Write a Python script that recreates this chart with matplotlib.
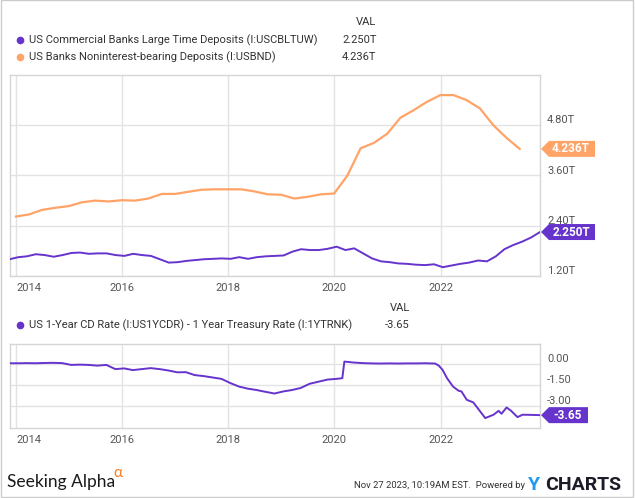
import numpy as np
import pandas as pd
import matplotlib
matplotlib.use("Agg")
import matplotlib.pyplot as plt
import matplotlib.dates as mdates
from matplotlib.lines import Line2D
from matplotlib.patches import Polygon, Rectangle
from matplotlib.transforms import ScaledTranslation

# ---- data ----
# US Banks Noninterest-bearing Deposits, quarterly, trillions
nib_dates = pd.date_range("2013-12-31", "2023-06-30", freq="QE")
nib_vals = [2.62, 2.67, 2.78, 2.83, 2.87, 2.96, 3.00, 2.98, 3.01, 3.00,
            3.05, 3.16, 3.16, 3.21, 3.26, 3.27, 3.27, 3.27, 3.22, 3.15,
            3.14, 3.05, 3.09, 3.15, 3.17, 3.60, 4.25, 4.38, 4.60, 4.98,
            5.16, 5.36, 5.52, 5.52, 5.40, 5.20, 4.80, 4.50, 4.236]

# US Commercial Banks Large Time Deposits, trillions
ltd_dates = pd.date_range("2013-11-01", "2023-11-01", freq="2MS") + pd.Timedelta(days=16)
ltd_vals = [1.60,
            1.65, 1.67, 1.72, 1.70, 1.66, 1.70,
            1.75, 1.76, 1.73, 1.74, 1.74, 1.70,
            1.68, 1.73, 1.70, 1.68, 1.60, 1.52,
            1.53, 1.56, 1.58, 1.60, 1.61, 1.62,
            1.61, 1.65, 1.61, 1.65, 1.67, 1.68,
            1.69, 1.78, 1.84, 1.82, 1.82, 1.85,
            1.90, 1.82, 1.86, 1.74, 1.62, 1.55,
            1.53, 1.50, 1.49, 1.47, 1.46, 1.48,
            1.41, 1.45, 1.49, 1.52, 1.57, 1.55,
            1.67, 1.84, 1.94, 2.02, 2.12, 2.25]

# US 1-Year CD Rate - 1 Year Treasury Rate
spread_dates = ["2013-11-20", "2014-01-15", "2014-03-15", "2014-05-15", "2014-07-15",
                "2014-09-15", "2014-11-15", "2015-01-15", "2015-03-15", "2015-05-15",
                "2015-07-15", "2015-09-15", "2015-11-15", "2016-01-15", "2016-03-15",
                "2016-05-15", "2016-07-15", "2016-09-15", "2016-11-15", "2017-01-15",
                "2017-03-15", "2017-05-15", "2017-07-15", "2017-09-15", "2017-11-15",
                "2018-01-15", "2018-03-15", "2018-05-15", "2018-07-15", "2018-09-15",
                "2018-11-15", "2019-01-15", "2019-03-15", "2019-05-15", "2019-07-15",
                "2019-09-15", "2019-11-15", "2020-01-15", "2020-02-25", "2020-03-10",
                "2020-05-15", "2020-07-15", "2020-09-15", "2020-11-15", "2021-01-15",
                "2021-03-15", "2021-05-15", "2021-07-15", "2021-09-15", "2021-11-25",
                "2021-12-20", "2022-01-15", "2022-02-15", "2022-03-28", "2022-05-05",
                "2022-05-25", "2022-07-01", "2022-08-15", "2022-11-05", "2023-01-01",
                "2023-02-05", "2023-02-25", "2023-04-01", "2023-05-01", "2023-06-15",
                "2023-07-20", "2023-09-15", "2023-11-17"]
spread_vals = [0.07, 0.07, 0.08, 0.07, 0.09,
               0.10, 0.08, -0.05, -0.03, -0.05,
               -0.10, -0.05, -0.35, -0.30, -0.42,
               -0.35, -0.28, -0.35, -0.45, -0.58,
               -0.57, -0.78, -0.85, -0.95, -1.05,
               -1.35, -1.60, -1.75, -1.85, -1.98,
               -2.10, -1.95, -1.85, -1.70, -1.40,
               -1.25, -1.10, -1.05, -1.00, 0.19,
               0.12, 0.08, 0.06, 0.05, 0.06,
               0.05, 0.06, 0.06, 0.07, 0.05,
               -0.10, -0.40, -1.00, -1.60, -1.90,
               -1.95, -2.55, -2.74, -3.86, -3.62,
               -3.34, -3.55, -3.10, -3.33, -3.79,
               -3.62, -3.63, -3.65]

top_ticks = [1.2, 2.4, 3.6, 4.8]
top_labels = ["1.20T", "2.40T", "3.60T", "4.80T"]
bot_ticks = [0.0, -1.5, -3.0]
bot_labels = ["0.00", "-1.50", "-3.00"]
years = list(range(2014, 2023, 2))

PURPLE = "#6633cc"
ORANGE = "#ffa366"
GRID = "#e3e3e3"
TXT = "#333333"
TICK = "#555555"
FONT = ["Roboto", "DejaVu Sans"]

W, H = 635, 498
plt.rcParams["font.family"] = FONT

fig = plt.figure(figsize=(W / 100, H / 100), dpi=100)


def fx(x):
    return x / W


def fy(y):
    return 1 - y / H


xmin = pd.Timestamp("2013-11-20")
xmax = pd.Timestamp("2023-11-17")


def style_axes(ax, ylim, ticks, labels):
    ax.set_xlim(xmin, xmax)
    ax.set_ylim(*ylim)
    for s in ax.spines.values():
        s.set_color("#d6d6d6")
        s.set_linewidth(1.0)
    ax.set_xticks([pd.Timestamp(f"{y}-01-01") for y in years])
    ax.xaxis.set_major_formatter(mdates.DateFormatter("%Y"))
    ax.tick_params(axis="x", length=0, pad=5, labelsize=8, labelcolor=TICK)
    ax.set_yticks(ticks)
    ax.set_yticklabels([])
    ax.tick_params(axis="y", length=0)
    ax.grid(True, color=GRID, linewidth=1.0)
    ax.set_axisbelow(True)
    for v, lab in zip(ticks, labels):
        ax.annotate(lab, xy=(1, v), xycoords=("axes fraction", "data"),
                    xytext=(7, 5), textcoords="offset pixels",
                    ha="left", va="center", fontsize=8, color=TICK,
                    annotation_clip=False)
    lbls = ax.get_xticklabels()
    if lbls:
        lbls[0].set_horizontalalignment("left")


def end_tag(ax, xval, yval, text, color, width=55):
    trans = fig.dpi_scale_trans + ScaledTranslation(
        mdates.date2num(xval), yval, ax.transData)
    pts = np.array([[1, 0], [9, 8], [width, 8], [width, -8], [9, -8]]) / 100.0
    poly = Polygon(pts, closed=True, transform=trans, facecolor=color,
                   edgecolor="none", clip_on=False, zorder=5)
    ax.add_artist(poly)
    ax.text((9 + width) / 2 / 100 - 0.01, 0, text, transform=trans, ha="center",
            va="center", color="white", fontsize=8.5, fontweight="bold",
            zorder=6, clip_on=False)


# ---- top panel ----
ax1 = fig.add_axes([fx(10), fy(276), fx(530), 201 / H])
style_axes(ax1, (1.2, 6.0), top_ticks, top_labels)
ax1.plot(nib_dates, nib_vals, color=ORANGE, lw=1.6, zorder=3)
ax1.plot(ltd_dates, ltd_vals, color=PURPLE, lw=1.4, zorder=3)
end_tag(ax1, xmax, nib_vals[-1], "4.236T", ORANGE)
end_tag(ax1, xmax, ltd_vals[-1], "2.250T", PURPLE)

# ---- bottom panel ----
ax2 = fig.add_axes([fx(10), fy(427.7), fx(530), 83.7 / H])
style_axes(ax2, (-4.55, 1.45), bot_ticks, bot_labels)
ax2.plot(pd.to_datetime(spread_dates), spread_vals, color=PURPLE, lw=1.4, zorder=3)
end_tag(ax2, xmax, spread_vals[-1], "-3.65", PURPLE, width=48)

# ---- legends ----
fig.text(fx(376.5), fy(22), "VAL", ha="right", va="center", fontsize=8, color=TXT)
legend_rows = [
    (40, PURPLE, "US Commercial Banks Large Time Deposits (I:USCBLTUW)", "2.250T"),
    (57, ORANGE, "US Banks Noninterest-bearing Deposits (I:USBND)", "4.236T"),
]
for y, c, name, val in legend_rows:
    fig.add_artist(Line2D([fx(20)], [fy(y)], marker="o", markersize=4.5,
                          color=c, transform=fig.transFigure))
    fig.text(fx(29), fy(y), name, ha="left", va="center", fontsize=8, color=TXT)
    fig.text(fx(376.5), fy(y), val, ha="right", va="center", fontsize=8, color=TXT)

fig.text(fx(409.7), fy(308), "VAL", ha="right", va="center", fontsize=8, color=TXT)
fig.add_artist(Line2D([fx(20)], [fy(325)], marker="o", markersize=4.5,
                      color=PURPLE, transform=fig.transFigure))
fig.text(fx(29), fy(325), "US 1-Year CD Rate (I:US1YCDR) - 1 Year Treasury Rate (I:1YTRNK)",
         ha="left", va="center", fontsize=8, color=TXT)
fig.text(fx(409.7), fy(325), "-3.65", ha="right", va="center", fontsize=8, color=TXT)

# ---- footer ----
fig.text(fx(7), fy(482), "Seeking Alpha", ha="left", va="center", fontsize=12.5,
         color="#1a1a1a", family=["Lato", "DejaVu Sans"])
fig.text(fx(113), fy(473), "\u03b1", ha="left", va="center", fontsize=11,
         color="#ff7a1a", family=["Lato", "DejaVu Sans"])
fig.text(fx(525), fy(485), "Nov 27 2023, 10:19AM EST.  Powered by", ha="right",
         va="center", fontsize=6.8, color=TXT)
fig.text(fx(528), fy(485), "Y", ha="left", va="center", fontsize=14,
         fontweight="bold", color="#1e9bf0")
fig.text(fx(545), fy(485), "CHARTS", ha="left", va="center", fontsize=14,
         fontweight="bold", color="#1c1c28")

# outer frame
fig.add_artist(Rectangle((fx(0.5), fy(496.5)), fx(632), 496 / H, fill=False,
                         edgecolor="#cccccc", linewidth=1.0,
                         transform=fig.transFigure))

fig.savefig("out.png", dpi=100)
